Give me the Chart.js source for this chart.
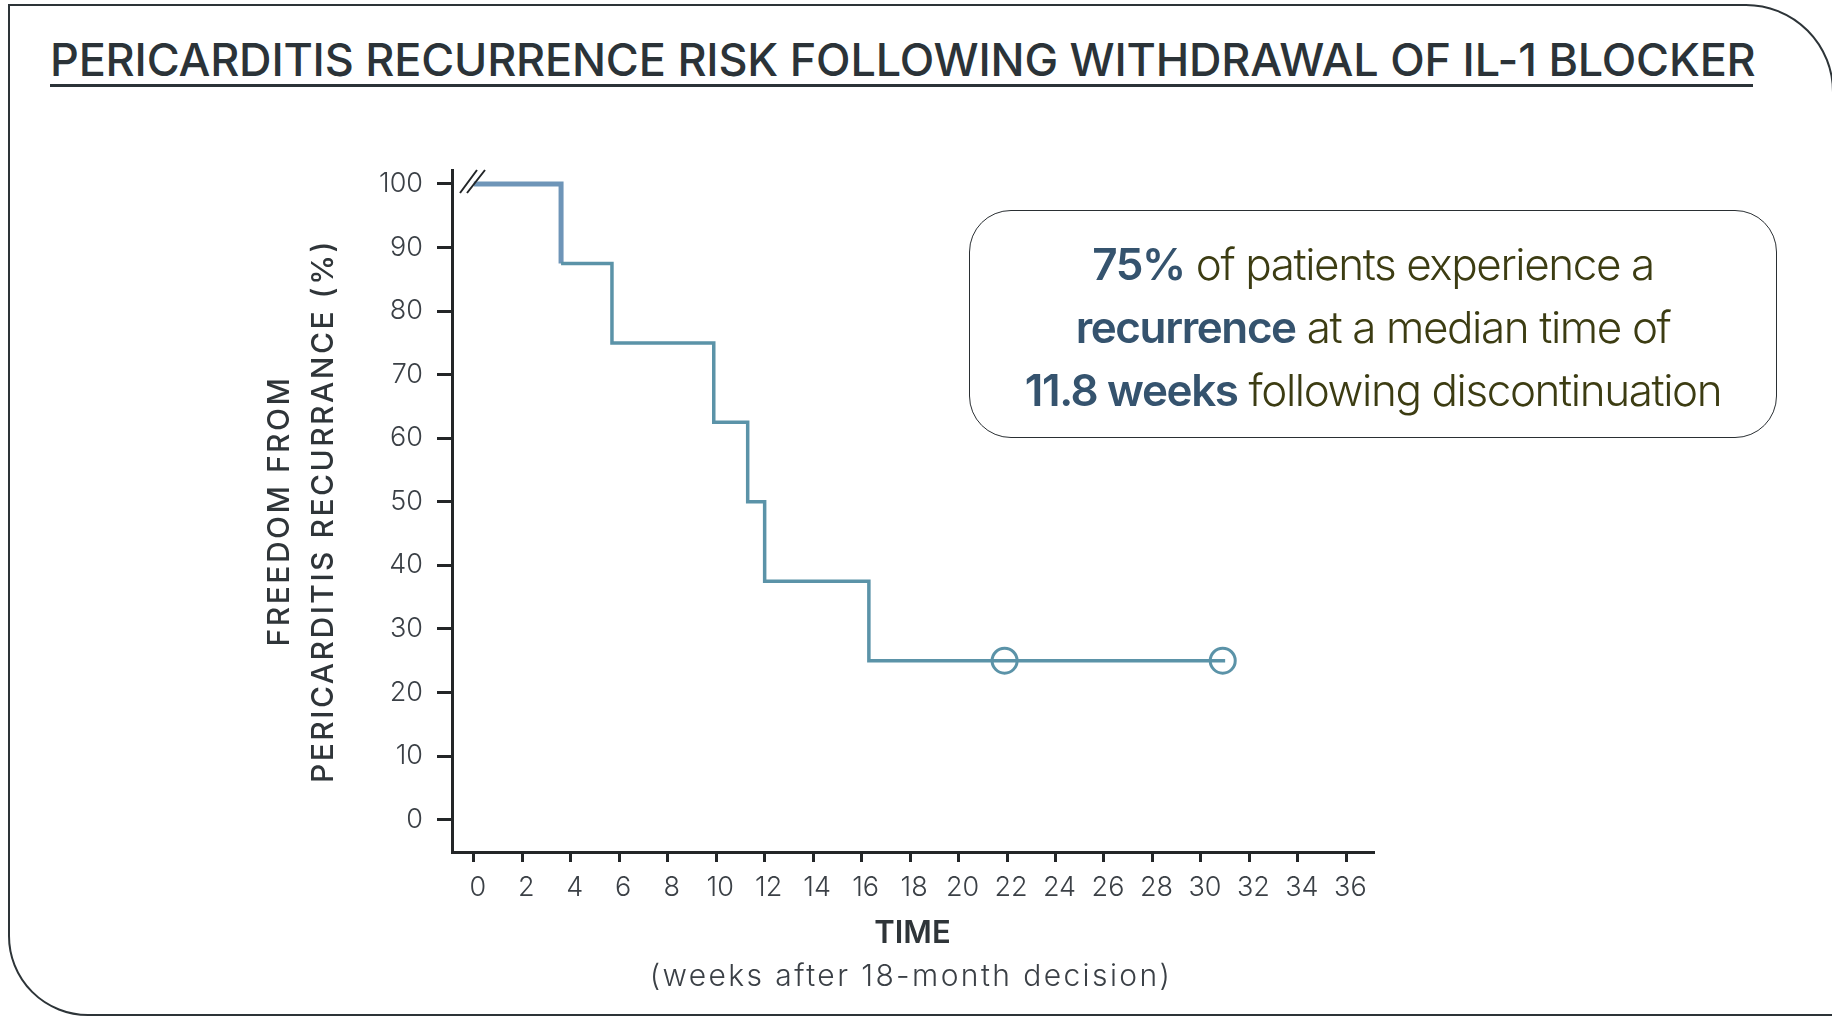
<!DOCTYPE html>
<html>
<head>
<meta charset="utf-8">
<script src="https://cdn.jsdelivr.net/npm/chart.js@4"></script>
<style>
  html, body { margin: 0; padding: 0; background: #fff; overflow: hidden; }
  body { width: 1832px; height: 1018px; position: relative; font-family: Inter, "Noto Sans", sans-serif; }
  #frame { position: absolute; left: 8px; top: 4px; width: 1826px; height: 1012px; box-sizing: border-box;
    border: 2.5px solid #2d3438; border-radius: 0 88px 0 80px; }
  #title { position: absolute; left: 50px; top: 30px; font-size: 45px; font-weight: 500; color: #2b3338;
    line-height: 60px; white-space: nowrap; letter-spacing: -0.2px; }
  #rule { position: absolute; left: 50px; top: 84px; width: 1703px; height: 3px; background: #2b3338; }
  #note { position: absolute; left: 969px; top: 210px; width: 808px; height: 228px; box-sizing: border-box;
    border: 1.8px solid #2a2f33; border-radius: 42px; text-align: center; font-size: 44px; line-height: 63px;
    padding-top: 22px; color: #3c3c12; font-weight: 300; letter-spacing: -1.4px; }
  #note b { font-weight: 600; color: #35536e; }
  #sub { position: absolute; left: 0; width: 1822px; top: 957px; text-align: center; font-size: 30px;
    color: #3b4046; letter-spacing: 2.4px; font-weight: 300; }
  canvas { position: absolute; left: 0; top: 0; }
</style>
</head>
<body>
<div id="frame"></div>
<div id="title">PERICARDITIS RECURRENCE RISK FOLLOWING WITHDRAWAL OF IL-1 BLOCKER</div>
<div id="rule"></div>
<canvas id="km" width="1832" height="1018"></canvas>
<div id="note"><b>75%</b> of patients experience a<br><b>recurrence</b> at a median time of<br><b>11.8 weeks</b> following discontinuation</div>
<div id="sub">(weeks after 18-month decision)</div>
<script>
// Kaplan-Meier steps (weeks, % free of recurrence)
const times = [0, 3.6, 5.7, 9.9, 11.3, 12.0, 16.3, 31.0];
const freedom = [100, 87.5, 75, 62.5, 50, 37.5, 25, 25];
// censored patients
const censorTimes = [21.9, 30.9];
const censorFreedom = [25, 25];

const xTicks = [0, 2, 4, 6, 8, 10, 12, 14, 16, 18, 20, 22, 24, 26, 28, 30, 32, 34, 36];
const yTicks = [0, 10, 20, 30, 40, 50, 60, 70, 80, 90, 100];

const lineColor = "#5b93a8";
const axisColor = "#232628";
const textColor = "#3b4046";

Chart.defaults.font.family = "Inter, 'Noto Sans', sans-serif";

// the little "//" axis break at the top left of the plot
const axisBreak = {
  id: "axisBreak",
  afterDraw(chart) {
    const { ctx, chartArea } = chart;
    const l = chartArea.left, t = chartArea.top;
    ctx.save();
    ctx.strokeStyle = axisColor;
    ctx.lineWidth = 2;
    ctx.beginPath();
    ctx.moveTo(l + 8, t + 23); ctx.lineTo(l + 25, t);
    ctx.moveTo(l + 15, t + 23); ctx.lineTo(l + 33, t);
    ctx.stroke();
    ctx.restore();
  }
};

// spaced-out letters on the y title
const spacedTitle = {
  id: "spacedTitle",
  beforeDraw(chart) {
    const s = chart.scales.y;
    if (s._spaced) return;
    const orig = s.drawTitle;
    s.drawTitle = function () {
      this.ctx.save();
      this.ctx.letterSpacing = "2.5px";
      orig.apply(this, arguments);
      this.ctx.restore();
    };
    s._spaced = true;
  }
};

new Chart(document.getElementById("km"), {
  type: "line",
  data: {
    datasets: [
      {
        data: times.map((t, i) => ({ x: t, y: freedom[i] })),
        stepped: true,
        borderColor: lineColor,
        borderWidth: 3.5,
        pointRadius: 0,
        segment: {
          borderColor: c => c.p0DataIndex === 0 ? "#6e95b8" : lineColor,
          borderWidth: c => c.p0DataIndex === 0 ? 5 : 3.5
        }
      },
      {
        type: "scatter",
        data: censorTimes.map((t, i) => ({ x: t, y: censorFreedom[i] })),
        showLine: false,
        pointStyle: "circle",
        pointRadius: 12.5,
        pointBorderWidth: 3,
        borderColor: lineColor,
        backgroundColor: "rgba(0,0,0,0)"
      }
    ]
  },
  options: {
    responsive: false,
    animation: false,
    layout: { padding: { left: 240, top: 170, right: 459, bottom: 56 } },
    plugins: { legend: { display: false }, tooltip: { enabled: false } },
    scales: {
      x: {
        type: "linear",
        min: -0.9,
        max: 37.1,
        afterBuildTicks: s => { s.ticks = xTicks.map(v => ({ value: v })); },
        afterFit: s => { s.height = 110; },
        grid: { drawOnChartArea: false, tickLength: 10, color: axisColor, lineWidth: 3 },
        border: { color: axisColor, width: 3 },
        ticks: { color: textColor, font: { size: 27, weight: 300 }, padding: 10, labelOffset: 4, maxRotation: 0 },
        title: { display: true, text: "TIME", color: "#2f3539",
          font: { size: 31, weight: 600, lineHeight: 1.2 }, padding: { top: 0, bottom: 9.5 } }
      },
      y: {
        min: -5.1,
        max: 102.2,
        afterBuildTicks: s => { s.ticks = yTicks.map(v => ({ value: v })); },
        afterFit: s => { s.width = 212; },
        grid: { drawOnChartArea: false, tickLength: 15, color: axisColor, lineWidth: 3 },
        border: { color: axisColor, width: 3 },
        ticks: { color: textColor, font: { size: 27, weight: 300 }, padding: 14 },
        title: { display: true, text: ["FREEDOM FROM", "PERICARDITIS RECURRANCE (%)"], color: "#2f3539",
          font: { size: 30, weight: 500, lineHeight: 1.45 }, padding: { top: 18.5, bottom: 0 } }
      }
    }
  },
  plugins: [axisBreak, spacedTitle]
});
</script>
</body>
</html>
